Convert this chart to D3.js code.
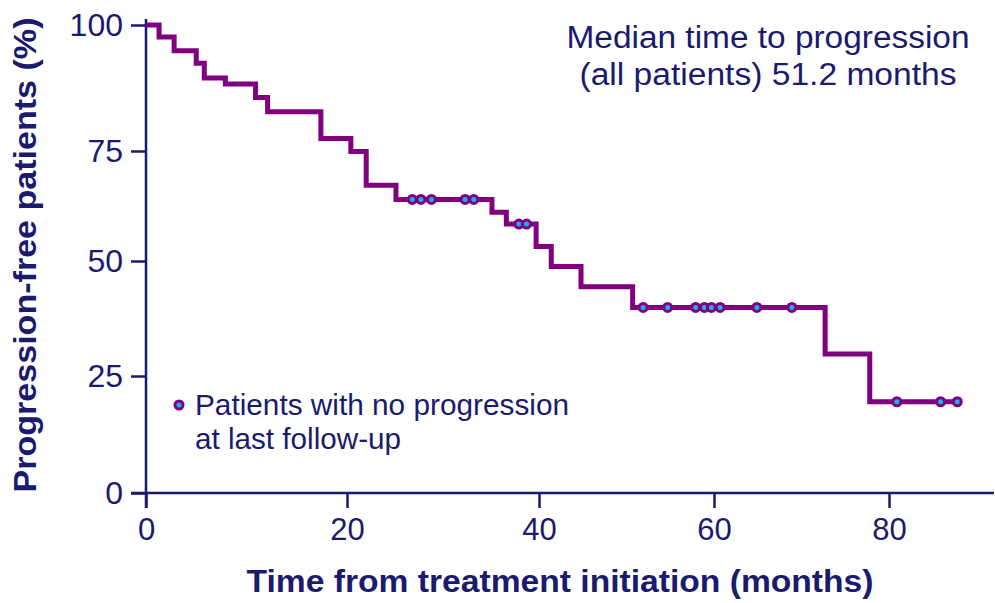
<!DOCTYPE html>
<html>
<head>
  <meta charset="utf-8">
  <title>Time to progression</title>
  <style>
    body { margin: 0; background: #fff; }
    text { font-family: "Liberation Sans", Arial, sans-serif; fill: #1a1a6e; }
  </style>
</head>
<body>
  <svg width="995" height="603"></svg>
  <script src="https://d3js.org/d3.v7.min.js"></script>
  <script>
    // data
    var eventTimes = [0, 1.3, 2.8, 5.0, 5.8, 7.9, 10.9, 12.1, 17.4, 20.4, 22.0, 25.1, 35.1, 36.6, 39.7, 41.4, 44.8, 50.7, 72.7, 77.8];
    var survival = [100, 97.6, 94.9, 92.4, 89.5, 88.3, 85.6, 82.8, 77.5, 74.9, 67.2, 64.0, 61.1, 58.4, 53.3, 48.8, 44.4, 39.9, 29.8, 19.5];
    var censorTimes = [26.8, 27.7, 28.8, 32.3, 33.2, 37.9, 38.7, 51.9, 54.7, 57.9, 58.9, 59.7, 60.7, 64.9, 68.9, 80.9, 85.9, 87.8];
    var lastTime = 87.8;
    var xTicks = [0, 20, 40, 60, 80];
    var yTicks = [0, 25, 50, 75, 100];

    var navy = "#1a1a6e";
    var purple = "#80007f";
    var svg = d3.select("svg");

    // the original axes are not evenly spaced, so piecewise scales
    var x = d3.scaleLinear()
      .domain([0, 20, 40, 60, 80, 92])
      .range([146, 347, 539, 714, 889, 994]);
    var y = d3.scaleLinear()
      .domain([0, 25, 50, 75, 100, 102.5])
      .range([493, 376, 261, 151, 25, 19]);

    // axis lines
    svg.append("line")
      .attr("x1", 131).attr("x2", x(92))
      .attr("y1", y(0)).attr("y2", y(0))
      .attr("stroke", navy).attr("stroke-width", 2.5);
    svg.append("line")
      .attr("x1", x(0)).attr("x2", x(0))
      .attr("y1", y(102.5)).attr("y2", 508)
      .attr("stroke", navy).attr("stroke-width", 2.5);

    var xAxis = svg.append("g")
      .attr("transform", "translate(0," + y(0) + ")")
      .call(d3.axisBottom(x).tickValues(xTicks).tickSize(15).tickPadding(10));
    xAxis.select(".domain").remove();
    xAxis.selectAll("line").attr("stroke", navy).attr("stroke-width", 2.5);
    xAxis.selectAll("text")
      .attr("font-size", 31)
      .attr("font-family", "Liberation Sans, Arial, sans-serif")
      .attr("fill", navy);

    var yAxis = svg.append("g")
      .attr("transform", "translate(" + x(0) + ",0)")
      .call(d3.axisLeft(y).tickValues(yTicks).tickSize(15).tickPadding(8));
    yAxis.select(".domain").remove();
    yAxis.selectAll("line").attr("stroke", navy).attr("stroke-width", 2.5);
    yAxis.selectAll("text")
      .attr("font-size", 32)
      .attr("font-family", "Liberation Sans, Arial, sans-serif")
      .attr("fill", navy);

    // survival curve
    var steps = eventTimes.map(function (t, i) { return [t, survival[i]]; });
    steps.push([lastTime, survival[survival.length - 1]]);

    var line = d3.line()
      .x(function (d) { return x(d[0]); })
      .y(function (d) { return y(d[1]); })
      .curve(d3.curveStepAfter);

    svg.append("path")
      .datum(steps)
      .attr("d", line)
      .attr("fill", "none")
      .attr("stroke", purple)
      .attr("stroke-width", 5);

    function levelAt(t) {
      var i = d3.bisectRight(eventTimes, t) - 1;
      return survival[Math.max(i, 0)];
    }

    svg.selectAll(".censor")
      .data(censorTimes)
      .enter()
      .append("circle")
      .attr("class", "censor")
      .attr("cx", function (d) { return x(d); })
      .attr("cy", function (d) { return y(levelAt(d)); })
      .attr("r", 4)
      .attr("fill", "#19b2e8")
      .attr("stroke", purple)
      .attr("stroke-width", 3);

    // legend
    svg.append("circle")
      .attr("cx", 179).attr("cy", 405).attr("r", 4)
      .attr("fill", "#19b2e8").attr("stroke", purple).attr("stroke-width", 3);
    svg.append("text").attr("x", 195).attr("y", 415).attr("font-size", 29)
      .attr("textLength", 374).attr("lengthAdjust", "spacingAndGlyphs")
      .text("Patients with no progression");
    svg.append("text").attr("x", 195).attr("y", 449).attr("font-size", 29)
      .attr("textLength", 206).attr("lengthAdjust", "spacingAndGlyphs")
      .text("at last follow-up");

    // median annotation
    svg.append("text").attr("x", 768).attr("y", 48).attr("font-size", 31)
      .attr("text-anchor", "middle")
      .attr("textLength", 403).attr("lengthAdjust", "spacingAndGlyphs")
      .text("Median time to progression");
    svg.append("text").attr("x", 768).attr("y", 85).attr("font-size", 31)
      .attr("text-anchor", "middle")
      .attr("textLength", 377).attr("lengthAdjust", "spacingAndGlyphs")
      .text("(all patients) 51.2 months");

    // axis titles
    svg.append("text")
      .attr("x", 560).attr("y", 592)
      .attr("text-anchor", "middle")
      .attr("font-size", 31).attr("font-weight", "bold")
      .attr("textLength", 627).attr("lengthAdjust", "spacingAndGlyphs")
      .text("Time from treatment initiation (months)");
    svg.append("text")
      .attr("transform", "translate(36,255) rotate(-90)")
      .attr("text-anchor", "middle")
      .attr("font-size", 31).attr("font-weight", "bold")
      .attr("textLength", 475).attr("lengthAdjust", "spacingAndGlyphs")
      .text("Progression-free patients (%)");
  </script>
</body>
</html>
